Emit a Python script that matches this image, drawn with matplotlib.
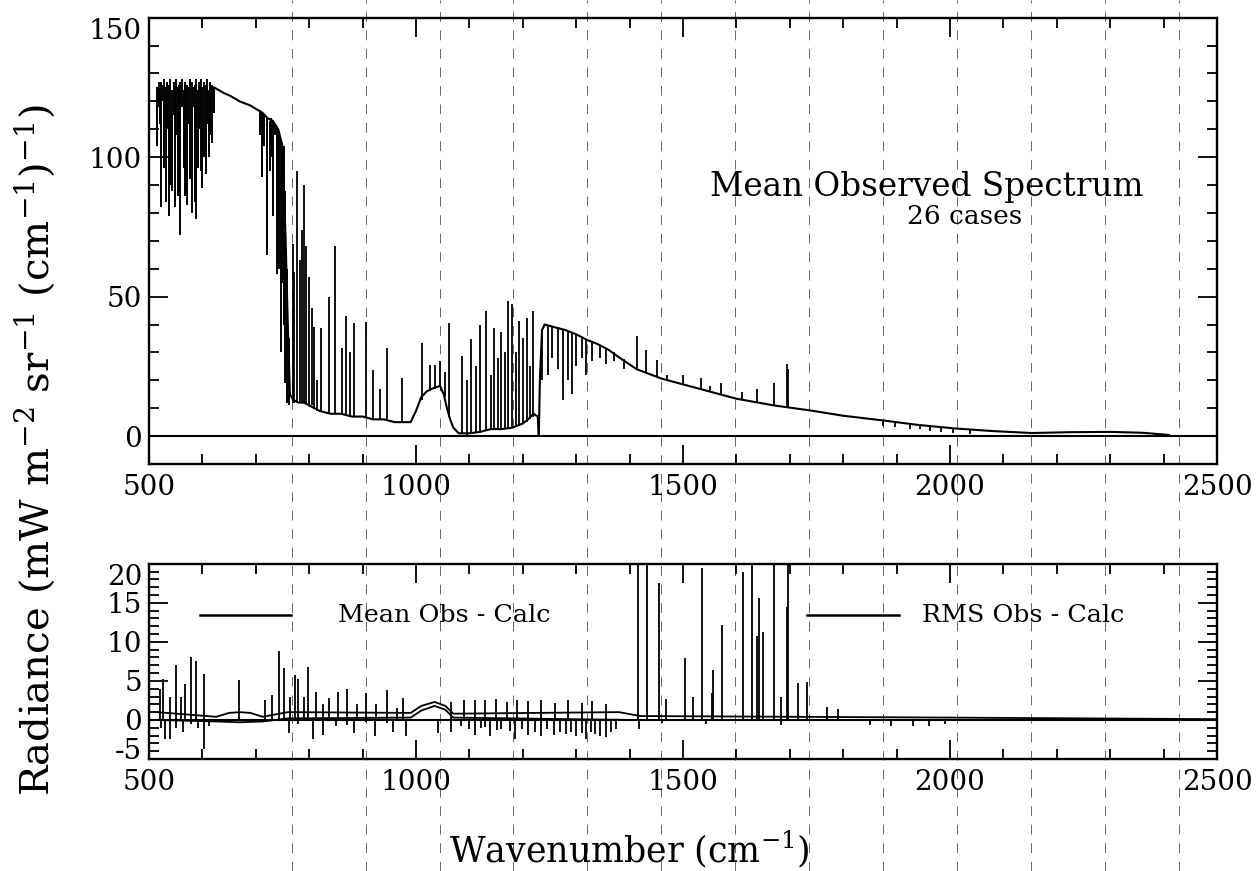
import matplotlib
matplotlib.use("Agg")
import matplotlib.pyplot as plt
from matplotlib.lines import Line2D
from matplotlib.ticker import MultipleLocator

plt.rcParams['font.family'] = ['DejaVu Serif']
plt.rcParams['mathtext.fontset'] = 'dejavuserif'
plt.rcParams['axes.unicode_minus'] = False

# ---- upper panel: mean observed spectrum ----
# envelope / continuum
obs_wn = [622, 640, 652, 670, 690, 703,
          712, 722, 732, 742, 750, 756, 760, 764, 770, 780,
          790, 800, 810, 820, 840, 860, 880, 900, 920, 940,
          960, 975, 990, 1000, 1010, 1020, 1030, 1045, 1052, 1058,
          1064, 1070, 1080, 1100, 1120, 1140, 1160, 1180, 1200, 1210,
          1220, 1228, 1230, 1232, 1236, 1241, 1260, 1280, 1300, 1320,
          1340, 1360, 1382, 1413, 1460, 1530, 1600, 1670, 1738, 1800,
          1875, 1940, 2012, 2080, 2153, 2225, 2300, 2360, 2410]
obs_rad = [125, 123, 122, 120, 118.5, 117,
           116, 114, 113, 110, 104, 70, 40, 15, 13, 12,
           12, 11, 10, 9, 8, 8, 7, 7, 6, 6,
           5, 5, 5, 9, 14, 16, 17, 18, 15, 10,
           6, 3, 1, 1, 1.5, 2.5, 2.5, 3, 4.5, 6,
           8, 7, 0, 20, 38, 40, 39, 38, 36.5, 34.5,
           33, 31, 28, 24, 20.6, 17, 13.4, 11, 9.2, 7.3,
           5.6, 4, 2.7, 1.8, 1.1, 1.4, 1.5, 1.2, 0.4]

# absorption lines in the CO2 band
co2_dip_wn = [516, 518, 520, 523, 526, 529, 531, 534, 537, 540,
              543, 546, 549, 551, 554, 557, 559, 562, 565, 568,
              571, 574, 577, 580, 583, 586, 588, 591, 594, 597,
              600, 603, 606, 609, 612, 615, 618, 621]
co2_dip_low = [104, 118, 112, 82, 120, 96, 84, 110, 79, 90,
               88, 115, 82, 108, 86, 100, 72, 118, 96, 86,
               83, 112, 92, 80, 118, 84, 78, 96, 110, 95,
               89, 100, 94, 112, 100, 108, 105, 116]
co2_dip_top = [125, 127, 124, 127, 126, 128, 125, 127, 126, 128,
               124, 127, 126, 128, 125, 126, 127, 128, 124, 127,
               126, 125, 128, 127, 125, 126, 128, 124, 127, 128,
               125, 127, 126, 128, 124, 127, 126, 125]

# absorption lines on the band edge
edge_dip_wn = [708, 711, 716, 721, 726, 729, 732, 736, 739, 742,
               744, 748, 750, 752, 755, 758, 762]
edge_dip_low = [108, 93, 104, 65, 95, 100, 79, 108, 58, 80,
                60, 30, 55, 40, 19, 12, 11]
edge_dip_top = [117, 116, 115, 114, 113, 114, 113, 112, 111, 110,
                108, 106, 105, 104, 88, 60, 35]

# absorption lines in the water band
h2o_dip_wn = [1236, 1248, 1255, 1266, 1275, 1285, 1292, 1300, 1310, 1318,
              1330, 1345, 1355, 1370, 1390]
h2o_dip_low = [20, 22, 28, 24, 13, 20, 15, 25, 28, 22, 27, 28, 26, 27, 24]
h2o_dip_top = [38, 40, 39.5, 39, 38, 37.5, 37, 36.5, 35.5, 34.5,
               34, 32.5, 31.5, 30, 27.5]

# ripples near 1900-2040
rip_wn = [1875, 1897, 1925, 1944, 1963, 1984, 2005, 2037]
rip_top = [5.6, 5.2, 4.5, 4.2, 3.8, 3.3, 2.9, 2.3]
rip_low = [3.5, 3.2, 2.5, 2.4, 2.0, 1.6, 1.2, 0.8]

# emission lines
em_wn = [769, 772, 778, 782, 787, 791, 795, 799, 805, 809,
         814, 823, 837, 848, 862, 869, 876, 884, 906, 920,
         933, 946, 973, 1012, 1026, 1035, 1045, 1054, 1062, 1087,
         1095, 1103, 1112, 1120, 1132, 1140, 1146, 1153, 1160, 1166,
         1172, 1180, 1187, 1193, 1200, 1207, 1213, 1220, 1414, 1431,
         1451, 1470, 1500, 1534, 1551, 1571, 1610, 1639, 1670, 1695,
         1697]
em_peak = [69, 59, 95, 63, 74, 90, 68, 57, 46, 39,
           20, 38.7, 50, 68, 31.7, 43, 30, 40.5, 41, 23.6,
           17, 31.7, 21, 33.5, 25.6, 25.6, 27, 23, 40.5, 28.8,
           20, 34.8, 25, 40, 45, 22, 38.6, 28, 37.4, 30,
           48.5, 47.3, 30, 41.2, 35, 42.4, 25, 45, 36, 31,
           27.2, 22, 21.8, 21, 18, 19, 15.8, 17, 19, 25.8,
           24]
em_base = [12, 12, 12, 12, 12, 12, 12, 11, 11, 10,
           9, 9, 8, 8, 8, 8, 7, 7, 7, 6,
           6, 6, 5, 13, 16, 17, 18, 14, 7, 1,
           0.5, 1, 1.5, 1.5, 2, 2.5, 2.5, 2.5, 2.5, 3,
           3, 3, 3.5, 4, 4.5, 5, 6, 7, 24, 22.8,
           21.2, 20, 18.3, 16.8, 16, 14.8, 13.1, 12, 11, 10.2,
           10.1]

# ---- lower panel: obs - calc ----
rms_wn = [520, 526, 540, 551, 560, 567, 578, 589, 604, 668,
          718, 730, 743, 753, 765, 773, 780, 790, 798, 813,
          826, 838, 854, 871, 890, 907, 925, 946, 965, 976,
          1065, 1090, 1110, 1130, 1150, 1170, 1190, 1210, 1235, 1260,
          1285, 1310, 1330, 1355, 1415, 1433, 1455, 1469, 1503, 1519,
          1535, 1554, 1557, 1573, 1612, 1630, 1639, 1642, 1649, 1671,
          1684, 1694, 1696, 1715, 1733, 1770, 1791]
rms_peak = [4, 5.3, 3, 7, 3, 4.6, 8, 7.6, 5.9, 5.1,
            2.5, 3.2, 8.8, 6.6, 3, 5.7, 5.3, 3, 6.8, 3.6,
            2, 2.8, 3.6, 4.0, 2, 3.4, 2, 3.8, 1.5, 2.8,
            2.3, 2.5, 2.5, 2.5, 2.7, 2.3, 2.6, 2.4, 2.5, 2.2,
            2.5, 2.2, 2.4, 2.0, 22, 22, 17.5, 2.7, 7.9, 3.0,
            19.4, 3.4, 6.4, 12.1, 19.0, 22, 10.7, 15.6, 11.3, 22,
            3.0, 14.4, 22, 4.7, 4.8, 1.6, 1.4]
rms_curve_wn = [515, 626, 650, 670, 690, 713, 760, 990, 1010, 1035,
                1055, 1070, 1380, 1420, 2000, 2500]
rms_curve_val = [1.0, 0.4, 0.9, 1.0, 0.9, 0.4, 1.0, 0.9, 1.8, 2.3,
                 1.8, 0.8, 1.0, 0.5, 0.3, 0.1]

mean_neg_wn = [523, 530, 539, 551, 563, 578, 592, 603, 612, 763,
               780, 808, 826, 850, 871, 884, 907, 923, 946, 957,
               982, 1041, 1065, 1085, 1100, 1110, 1122, 1130, 1138, 1152,
               1160, 1176, 1185, 1198, 1209, 1222, 1234, 1246, 1259, 1270,
               1280, 1290, 1300, 1310, 1318, 1328, 1335, 1345, 1355, 1365,
               1375, 1417, 1460, 1543, 1684, 1850, 1890, 1930, 1960, 1990]
mean_neg_val = [-1, -2.5, -2.4, -1, -1.5, -0.5, -1, -3.7, -0.8, -1.7,
                -0.5, -2.5, -1.9, -0.8, -0.6, -1.7, -0.3, -2.1, -0.4, -1.5,
                -2.1, -1.7, -1.5, -0.8, -1.2, -1.9, -1.0, -0.9, -2.1, -1.3,
                -1.2, -1.4, -2.5, -1.2, -1.9, -1.5, -2.1, -1.2, -1.9, -1.5,
                -1.8, -1.6, -2.0, -1.7, -2.4, -1.6, -1.8, -2.0, -2.2, -1.5,
                -1.2, -1.1, -0.4, -0.5, -0.7, -0.6, -0.8, -0.8, -0.8, -0.5]
mean_curve_wn = [515, 626, 670, 713, 760, 990, 1010, 1035, 1055, 1070, 1400, 2500]
mean_curve_val = [0, -0.2, -0.3, -0.2, 0.2, 0.3, 1.2, 1.8, 1.3, 0.3, 0, 0]

fig = plt.figure(figsize=(12.57, 8.71), dpi=100)

# faint dashed scan lines running through the page
for k in range(13):
    xf = (291.7 + 73.9 * k) / 1257
    ln = Line2D([xf, xf], [0, 1], transform=fig.transFigure, color='0.4',
                lw=0.7, dashes=(10, 9), zorder=0)
    fig.add_artist(ln)

ax1 = fig.add_axes([0.1185, 0.4673, 0.8497, 0.5124])
ax2 = fig.add_axes([0.1185, 0.1286, 0.8497, 0.2242])

# upper panel
ax1.plot(obs_wn, obs_rad, color='k', lw=1.5)
ax1.vlines(co2_dip_wn, co2_dip_low, co2_dip_top, colors='k', lw=1.4)
ax1.vlines(edge_dip_wn, edge_dip_low, edge_dip_top, colors='k', lw=1.4)
ax1.vlines(h2o_dip_wn, h2o_dip_low, h2o_dip_top, colors='k', lw=1.3)
ax1.vlines(rip_wn, rip_low, rip_top, colors='k', lw=1.3)
ax1.vlines(em_wn, em_base, em_peak, colors='k', lw=1.3)
ax1.axhline(0, color='k', lw=1.5)
ax1.set_xlim(500, 2500)
ax1.set_ylim(-10, 150)
ax1.set_xticks([500, 1000, 1500, 2000, 2500])
ax1.set_yticks([0, 50, 100, 150])
ax1.xaxis.set_minor_locator(MultipleLocator(100))
ax1.yaxis.set_minor_locator(MultipleLocator(10))
ax1.text(0.728, 0.62, 'Mean Observed Spectrum', transform=ax1.transAxes,
         ha='center', va='center', fontsize=23.5)
ax1.text(0.764, 0.555, '26 cases', transform=ax1.transAxes,
         ha='center', va='center', fontsize=19)

# lower panel
ax2.axhline(0, color='k', lw=1.5)
ax2.vlines(rms_wn, 0, rms_peak, colors='k', lw=1.3)
ax2.vlines(mean_neg_wn, 0, mean_neg_val, colors='k', lw=1.3)
ax2.plot(rms_curve_wn, rms_curve_val, color='k', lw=1.3)
ax2.plot(mean_curve_wn, mean_curve_val, color='k', lw=1.3)
ax2.set_xlim(500, 2500)
ax2.set_ylim(-5, 20)
ax2.set_xticks([500, 1000, 1500, 2000, 2500])
ax2.set_yticks([-5, 0, 5, 10, 15, 20])
ax2.xaxis.set_minor_locator(MultipleLocator(100))
ax2.yaxis.set_minor_locator(MultipleLocator(1))

ax2.plot([0.0475, 0.1326], [0.737, 0.737], transform=ax2.transAxes, color='k', lw=1.8)
ax2.text(0.177, 0.737, 'Mean Obs - Calc', transform=ax2.transAxes,
         ha='left', va='center', fontsize=18.3)
ax2.plot([0.616, 0.7025], [0.737, 0.737], transform=ax2.transAxes, color='k', lw=1.8)
ax2.text(0.7235, 0.737, 'RMS Obs - Calc', transform=ax2.transAxes,
         ha='left', va='center', fontsize=18.3)

for ax in (ax1, ax2):
    ax.set_facecolor('none')
    for s in ax.spines.values():
        s.set_linewidth(1.7)
    ax.tick_params(which='both', direction='in', top=True, right=True,
                   labelsize=20, width=1.3)
    ax.tick_params(which='major', length=14)
    ax.tick_params(which='minor', length=7)
    ax.tick_params(axis='x', pad=7)
    ax.tick_params(axis='y', pad=5)

fig.canvas.draw()
ylab = ax2.get_yticklabels()
ylab[0].set_va('baseline')
ylab[-1].set_va('top')
ax1.get_yticklabels()[-1].set_va('top')

fig.text(0.028, 0.483, r'Radiance (mW m$^{\mathrm{-2}}$ sr$^{\mathrm{-1}}$ (cm$^{\mathrm{-1}}$)$^{\mathrm{-1}}$)',
         rotation=90, ha='center', va='center', fontsize=29)
fig.text(0.501, 0.025, r'Wavenumber (cm$^{\mathrm{-1}}$)', ha='center', va='center', fontsize=25)

fig.savefig('out.png', dpi=100)
